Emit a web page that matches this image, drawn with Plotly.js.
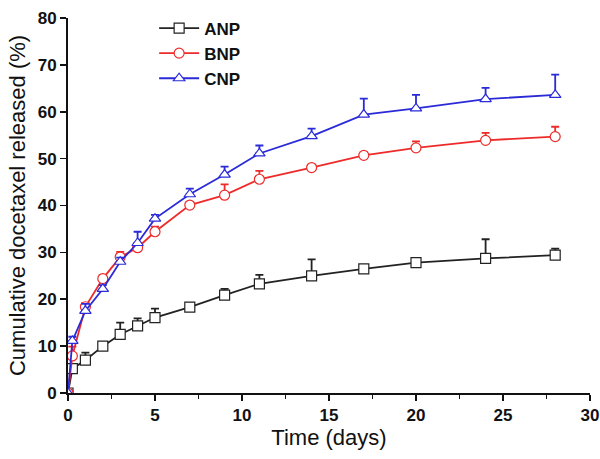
<!DOCTYPE html>
<html>
<head>
<meta charset="utf-8">
<script src="https://cdn.plot.ly/plotly-3.0.1.min.js"></script>
<style>html,body{margin:0;padding:0;background:#fff}#chart{width:600px;height:459px}</style>
</head>
<body>
<div id="chart"></div>
<script>
const timeDays = [0, 0.25, 1, 2, 3, 4, 5, 7, 9, 11, 14, 17, 20, 24, 28];
const anp = [0, 5.2, 7.0, 10.0, 12.5, 14.3, 16.1, 18.3, 20.9, 23.3, 25.0, 26.5, 27.8, 28.7, 29.4];
const anpErr = [0, 0.6, 1.6, 0.5, 2.5, 1.6, 1.9, 0.8, 1.3, 1.9, 3.5, 0.6, 0.5, 4.1, 1.4];
const bnp = [0, 7.9, 18.4, 24.4, 29.0, 31.0, 34.4, 40.1, 42.2, 45.6, 48.1, 50.7, 52.3, 53.9, 54.7];
const bnpErr = [0, 2.0, 0.8, 0.8, 1.1, 0.6, 1.1, 0.6, 2.3, 1.8, 0.5, 0.7, 1.4, 1.6, 2.1];
const cnp = [0, 11.1, 17.5, 22.2, 28.0, 32.0, 37.2, 42.4, 46.6, 51.1, 54.8, 59.4, 60.7, 62.7, 63.6];
const cnpErr = [0, 0.9, 1.5, 0.8, 0.9, 2.4, 0.8, 1.2, 1.7, 1.7, 1.6, 3.4, 2.9, 2.4, 4.3];
const seriesNames = ['ANP', 'BNP', 'CNP'];

function zeros(n){ return new Array(n).fill(0); }
function mk(name, y, err, color, symbol){
  return {
    x: timeDays, y: y, name: name, type: 'scatter', mode: 'lines+markers',
    line: {color: color, width: 1.8},
    marker: {symbol: symbol, size: 10, color: 'white', line: {color: color, width: 1.2}},
    error_y: {type: 'data', symmetric: false, array: err, arrayminus: zeros(err.length),
              color: color, thickness: 1.8, width: 4}
  };
}
const data = [
  mk(seriesNames[0], anp, anpErr, '#222222', 'square'),
  mk(seriesNames[1], bnp, bnpErr, '#ee2a2a', 'circle'),
  mk(seriesNames[2], cnp, cnpErr, '#2a2ad8', 'triangle-up')
];
const fam = 'Liberation Sans, Arial, sans-serif';
const tickFont = {family: fam, size: 17, color: '#111', weight: 'bold'};
const layout = {
  width: 600, height: 459,
  margin: {l: 68, r: 10, t: 10, b: 66},
  paper_bgcolor: '#fff', plot_bgcolor: '#fff',
  showlegend: true,
  legend: {x: 0.165, y: 1.02, xanchor: 'left', yanchor: 'top', itemwidth: 40,
           font: {family: fam, size: 17, color: '#111', weight: 'bold'},
           bgcolor: 'rgba(0,0,0,0)', tracegroupgap: 0},
  xaxis: {range: [0, 30], dtick: 5, tick0: 0, showgrid: false, zeroline: false,
          showline: true, linecolor: '#111', linewidth: 2, ticks: 'outside', ticklen: 6, tickwidth: 1.6,
          tickcolor: '#111', tickfont: tickFont,
          minor: {dtick: 2.5, ticks: 'outside', ticklen: 4, tickwidth: 1.3, tickcolor: '#111', showgrid: false},
          title: {text: 'Time (days)', font: {family: fam, size: 22, color: '#111'}, standoff: 4}},
  yaxis: {range: [0, 80], dtick: 10, showgrid: false, zeroline: false,
          showline: true, linecolor: '#111', linewidth: 2, ticks: 'outside', ticklen: 6, tickwidth: 1.6,
          tickcolor: '#111', tickfont: tickFont,
          title: {text: 'Cumulative docetaxel released (%)', font: {family: fam, size: 22, color: '#111'}, standoff: 6}}
};
Plotly.newPlot('chart', data, layout, {displayModeBar: false, staticPlot: true});
</script>
</body>
</html>
